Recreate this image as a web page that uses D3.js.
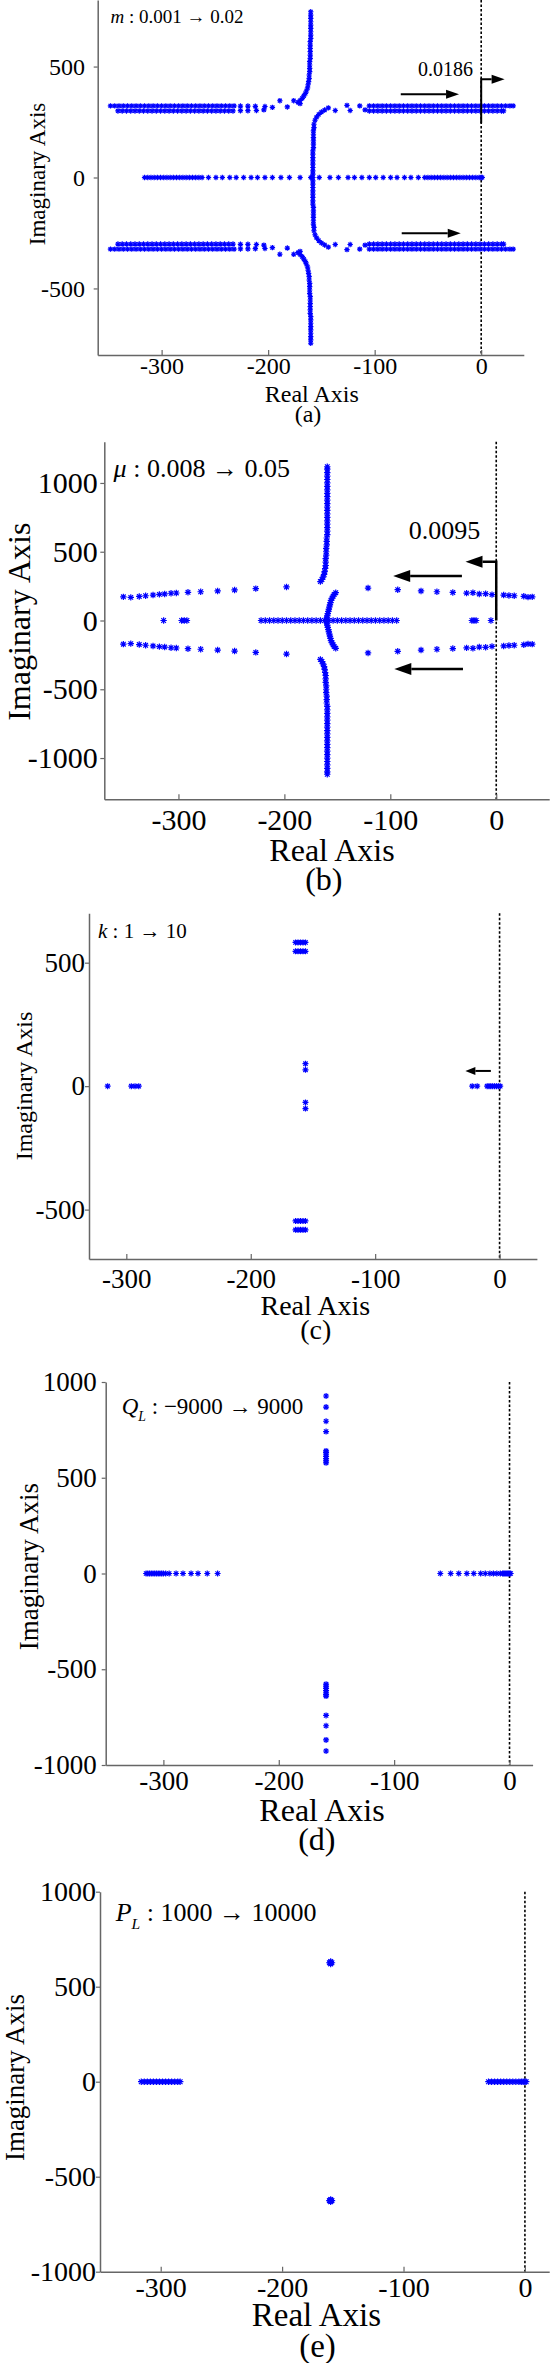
<!DOCTYPE html>
<html>
<head>
<meta charset="utf-8">
<script src="https://cdn.jsdelivr.net/npm/d3@7"></script>
<style>
  body { margin: 0; background: #fff; }
  svg { display: block; }
</style>
</head>
<body>
<svg id="fig"></svg>
<script>
// ---- data (upper half of each locus; the conjugates are added below) ----

// (a) m : 0.001 -> 0.02
const aRealAxisX = [-316,-313,-310,-307,-304,-301,-298,-295,-292,-289,-286,-283,-280,-277,-274,-271,-268,-265,-262,
  -256,-249,-243,-236,-230,-223,-216,-210,-203,-196,-188,-180,-170,-160,-152,-142,-134,-125,-119,-112,-105,-99,-92,-85,-79,-72,-66,-59,-53,
  -50,-47,-44,-41,-38,-35,-32,-29,-26,-23,-20,-17,-14,-11,-8,-5,-2,0,1];
const aInnerLocus = [[-158,0],[-158,15],[-158,30],[-158,45],[-158,60],[-158,75],[-158,90],[-158,105],[-158,120],
  [-157.5,135],[-157.5,150],[-157.5,165],[-157.5,180],[-157.5,195],[-157.5,210],[-157,225],[-157,240],[-156,258],
  [-154.5,272],[-152.5,284],[-150,295],[-147,304],[-143.5,314]];
const aOuterLocus = [[-160,747],[-160,732],[-160,717],[-160,702],[-160,687],[-160,672],[-160,657],[-160,642],[-160,627],
  [-160.5,612],[-160.5,597],[-160.5,582],[-160.5,567],[-160.5,552],[-160.5,537],[-161,522],[-161,507],[-161,492],[-161,477],
  [-161.5,462],[-161.5,447],[-162,432],[-162.5,418],[-163,404],[-164,391],[-165,379],[-166.5,368],[-168,357],[-170,347],[-172,339]];
const aLeftRowUpperX = [-348,-344,-340,-336,-332,-328,-324,-320,-316,-312,-308,-304,-300,-296,-292,-288,-284,-280,-276,-272,
  -268,-264,-260,-256,-252,-248,-244,-240,-236,-232];
const aLeftRowLowerX = [-341,-337,-333,-329,-325,-321,-317,-313,-309,-305,-301,-297,-293,-289,-285,-281,-277,-273,-269,
  -265,-261,-257,-253,-249,-245,-241,-237,-233];
const aLeftJoin = [[-226,322],[-226,301],[-219,322],[-219,301],[-212,321],[-211,302],[-203,320],[-204,305],
  [-196,316],[-189,346],[-182,318],[-176,346],[-170,333]];
const aRightJoin = [[-137,302],[-126,325],[-123,302],[-114,323],[-109,305]];
const aRightRowUpperX = [-105,-101,-97,-93,-89,-85,-81,-77,-73,-69,-65,-61,-57,-53,-49,-45,-41,-37,-33,-29,-25,-21,
  -17,-13,-9,-5,-1,3,7,11,15,19,23,27,30];
const aRightRowLowerX = [-105,-101,-97,-93,-89,-85,-81,-77,-73,-69,-65,-61,-57,-53,-49,-45,-41,-37,-33,-29,-25,-21,
  -17,-13,-9,-5,-1,3,7,11,15,19,21];
const aRowIm = [323, 300];
const aArrows = [[[-75.5,375],[-20.8,375]], [[-74.6,-251.5],[-19.2,-251.5]]];
const aBentArrow = [[0,245],[0,443],[22,443]];

// (b) mu : 0.008 -> 0.05
const bRealAxisX = [-314,-297,-294.5,-292,
  -222,-218,-214,-210,-206,-202,-198,-194,-190,-186,-182,-178,-174,-170,-166,-162,-158,-154,-150,-146,-142,-138,-134,
  -130,-126,-122,-118,-114,-110,-106,-102,-98,-94,
  -23,-21,-19,-5];
const bSideBranch = [[-352,172],[-345,168],[-337,175],[-331,180],[-324,185],[-318,190],[-313,193],[-307,198],[-302,200],
  [-291,205],[-279,209],[-263,215],[-247,222],[-227,232],[-198,244],
  [-121,236],[-93,224],[-71,215],[-56,209],[-41,204],[-28,199],[-22,202],[-16,193],[-10,195],[-4,188],[7,185],[12,182],
  [17,180],[26,176],[30,170],[34,172]];
const bInnerArc = [[-160,4],[-160,18],[-159.5,34],[-159,50],[-158.5,66],[-158,82],[-157.5,98],[-157,114],[-156.5,130],
  [-156,146],[-155,162],[-154,177],[-153,190],[-151.5,202]];
const bOuterLocus = [[-166,283],[-164.5,298],[-163.5,315],[-162.5,335],[-162,355],[-161.5,378],[-161,400],[-161,425],
  [-161,450],[-160.5,475],[-160.5,500],[-160.5,525],[-160,550],[-160,575],[-160,600],[-159.5,625],[-159.5,650],[-159.5,675],
  [-159.5,700],[-159.5,725],[-159.5,750],[-159.5,775],[-159.5,800],[-159.5,825],[-159.5,850],[-159.5,875],[-159.5,900],
  [-159.5,925],[-159.5,950],[-159.5,975],[-159.5,1000],[-159.5,1025],[-159.5,1050],[-159.5,1075],[-159.5,1100],[-159.5,1118]];
const bArrows = [[[-32.4,323.5],[-97.3,323.5]], [[-31.4,-352.6],[-96.2,-352.6]]];
const bBentArrow = [[0,0],[0,427.5],[-29,427.5]];

// (c) k : 1 -> 10
const cRealAxisX = [-315,-296,-293,-290,-22,-18,-10,-8.5,-7,-5.5,-4,-2.5,-1,0.5];
const cComplex = [[-164,582],[-162,582],[-160,582],[-158,582],[-156,582],
  [-164,546],[-162,546],[-160,546],[-158,546],[-156,546],[-156,91],[-156,66]];
const cArrows = [[[-7,61.6],[-27.5,61.6]]];

// (d) Q_L : -9000 -> 9000
const dRealLeftX = [-315,-313.5,-312,-310.5,-309,-307.5,-306,-304.5,-303,-301.5,-300,-298,-295,-289,-283,-276,-270,-262,-253];
const dRealRightX = [-60,-51,-44,-37,-31,-25,-21,-17,-14,-11,-8,-6,-5,-4,-3,-2,-1,0,1];
const dComplex = [[-159,927],[-159,869],[-159,795],[-159,741],[-159,640],[-159,632],[-159,624],[-159,612],
  [-159,600],[-159,588],[-159,578]];

// (e) P_L : 1000 -> 10000
const eRealLeftX = [-316,-313.5,-311,-308.5,-306,-303.5,-301,-298.5,-296,-293.5,-291,-288.5,-286,-284];
const eRealRightX = [-30,-27.5,-25,-22.5,-20,-17.5,-15,-12.5,-10,-7.5,-5,-3,-1.5,0,1];
const eComplex = [[-160,620],[-160,626],[-160,632],[-161,626],[-159,626]];

const xTicks = [-300, -200, -100, 0];

// ---- helpers ----
const onReal = xs => xs.map(x => [x, 0]);
const row = (xs, im) => xs.map(x => [x, im]);
const withConjugates = pts => pts.concat(pts.filter(p => p[1] !== 0).map(p => [p[0], -p[1]]));

const font = "'Liberation Serif','Times New Roman',serif";
const blue = "#0000ff";

const panels = [
  { id: "a", left: 97.7, right: 523.8, top: 0, bottom: 355,
    xDomain: [-360, 40], yDomain: [-800, 800], yTicks: [-500, 0, 500],
    tickFont: 24, xPad: 2, yPad: 8.7, r: 2.7,
    ylab: [36.7, 174, 23], xlab: [311.8, 402, 24], cap: [308, 422, 24],
    title: { x: 110.4, y: 23.3, fs: 19, sym: "m", sub: null, rest: " : 0.001 \u2192 0.02" },
    note: { text: "0.0186", at: [-7.6, 457], fs: 20 },
    arrows: aArrows, bent: aBentArrow, head: { len: 13, w: 4.5 }, sw: 2,
    points: withConjugates([...onReal(aRealAxisX), ...aInnerLocus, ...aOuterLocus,
      ...row(aLeftRowUpperX, aRowIm[0]), ...row(aLeftRowLowerX, aRowIm[1]), ...aLeftJoin,
      ...aRightJoin, ...row(aRightRowUpperX, aRowIm[0]), ...row(aRightRowLowerX, aRowIm[1])]) },
  { id: "b", left: 104.3, right: 549.2, top: 441.7, bottom: 799.3,
    xDomain: [-370, 50], yDomain: [-1300, 1300], yTicks: [-1000, -500, 0, 500, 1000],
    tickFont: 30, xPad: 9.4, yPad: 2.6, r: 3.2,
    ylab: [18.3, 621.7, 32], xlab: [332, 860.5, 32], cap: [323.8, 889.7, 32],
    title: { x: 113.6, y: 477, fs: 26, sym: "\u03bc", sub: null, rest: " : 0.008 \u2192 0.05" },
    note: { text: "0.0095", at: [-15, 590], fs: 26 },
    arrows: bArrows, bent: bBentArrow, head: { len: 17, w: 6 }, sw: 2.5,
    points: withConjugates([...onReal(bRealAxisX), ...bSideBranch, ...bInnerArc, ...bOuterLocus]) },
  { id: "c", left: 89, right: 536.9, top: 913.3, bottom: 1259,
    xDomain: [-330, 30], yDomain: [-700, 700], yTicks: [-500, 0, 500],
    tickFont: 27, xPad: 9.8, yPad: 0, r: 3,
    ylab: [23.3, 1086, 24], xlab: [315.3, 1315, 28], cap: [315.7, 1339, 28],
    title: { x: 98, y: 938, fs: 21, sym: "k", sub: null, rest: " : 1 \u2192 10" },
    arrows: cArrows, head: { len: 10, w: 4 }, sw: 2,
    points: withConjugates([...onReal(cRealAxisX), ...cComplex]) },
  { id: "d", left: 105.7, right: 532.6, top: 1382, bottom: 1765,
    xDomain: [-350, 20], yDomain: [-1000, 1000], yTicks: [-1000, -500, 0, 500, 1000],
    tickFont: 27, xPad: 5.8, yPad: 5, r: 3,
    ylab: [28.3, 1566.7, 27], xlab: [322, 1820.5, 32], cap: [316.8, 1850, 32],
    title: { x: 121.7, y: 1414, fs: 23, sym: "Q", sub: "L", rest: " : \u22129000 \u2192 9000" },
    points: withConjugates([...onReal(dRealLeftX), ...onReal(dRealRightX), ...dComplex]) },
  { id: "e", left: 100, right: 549.2, top: 1891.7, bottom: 2271.7,
    xDomain: [-350, 20], yDomain: [-1000, 1000], yTicks: [-1000, -500, 0, 500, 1000],
    tickFont: 28, xPad: 5.1, yPad: 0, r: 3.3,
    ylab: [15, 2077.5, 27], xlab: [316.4, 2326, 33], cap: [317.5, 2357, 33],
    title: { x: 115.7, y: 1921, fs: 26, sym: "P", sub: "L", rest: " : 1000 \u2192 10000" },
    points: withConjugates([...onReal(eRealLeftX), ...onReal(eRealRightX), ...eComplex]) }
];

const svg = d3.select("#fig").attr("width", 552).attr("height", 2363);

function star(r) {
  const k = r * 0.72;
  return `M${-r},0H${r}M0,${-r}V${r}M${-k},${-k}L${k},${k}M${-k},${k}L${k},${-k}`;
}

function drawArrow(g, pts, head, sw) {
  const n = pts.length;
  const [x1, y1] = pts[n - 2], [x2, y2] = pts[n - 1];
  const ang = Math.atan2(y2 - y1, x2 - x1);
  const bx = x2 - head.len * Math.cos(ang), by = y2 - head.len * Math.sin(ang);
  g.append("path")
    .attr("d", d3.line()(pts.slice(0, -1).concat([[bx, by]])))
    .attr("fill", "none").attr("stroke", "#000").attr("stroke-width", sw)
    .attr("stroke-linejoin", "miter");
  g.append("path")
    .attr("d", `M${x2},${y2}L${bx - head.w * Math.sin(ang)},${by + head.w * Math.cos(ang)}` +
      `L${bx + head.w * Math.sin(ang)},${by - head.w * Math.cos(ang)}Z`)
    .attr("fill", "#000");
}

panels.forEach(p => {
  const x = d3.scaleLinear().domain(p.xDomain).range([p.left, p.right]);
  const y = d3.scaleLinear().domain(p.yDomain).range([p.bottom, p.top]);
  const g = svg.append("g").attr("class", "panel-" + p.id);

  // dotted stability boundary at Re = 0
  g.append("line")
    .attr("x1", x(0)).attr("x2", x(0)).attr("y1", p.top).attr("y2", p.bottom)
    .attr("stroke", "#000").attr("stroke-width", 1.6).attr("stroke-dasharray", "2.5,2");

  // eigenvalues
  g.append("g").selectAll("path")
    .data(p.points)
    .join("path")
    .attr("d", star(p.r))
    .attr("transform", d => `translate(${x(d[0])},${y(d[1])})`)
    .attr("fill", "none").attr("stroke", blue).attr("stroke-width", 1.2);

  // arrows
  (p.arrows || []).forEach(a => drawArrow(g, a.map(d => [x(d[0]), y(d[1])]), p.head, p.sw));
  if (p.bent) drawArrow(g, p.bent.map(d => [x(d[0]), y(d[1])]), p.head, p.sw);
  if (p.note) {
    g.append("text").attr("x", x(p.note.at[0])).attr("y", y(p.note.at[1]))
      .attr("text-anchor", "end").attr("font-family", font).attr("font-size", p.note.fs)
      .text(p.note.text);
  }

  // parameter label
  const t = g.append("text").attr("x", p.title.x).attr("y", p.title.y)
    .attr("font-family", font).attr("font-size", p.title.fs);
  t.append("tspan").attr("font-style", "italic").text(p.title.sym);
  if (p.title.sub) {
    t.append("tspan").attr("font-style", "italic").attr("font-size", p.title.fs * 0.6)
      .attr("dy", p.title.fs * 0.3).text(p.title.sub);
    t.append("tspan").attr("dy", -p.title.fs * 0.3).text(p.title.rest);
  } else {
    t.append("tspan").text(p.title.rest);
  }

  // axes
  const xAxis = d3.axisBottom(x).tickValues(xTicks).tickFormat(d => String(d))
    .tickSizeInner(-5).tickSizeOuter(0).tickPadding(p.xPad);
  const yAxis = d3.axisLeft(y).tickValues(p.yTicks).tickFormat(d => String(d))
    .tickSizeInner(4).tickSizeOuter(0).tickPadding(p.yPad);
  const gx = g.append("g").attr("transform", `translate(0,${p.bottom})`).call(xAxis);
  const gy = g.append("g").attr("transform", `translate(${p.left},0)`).call(yAxis);
  [gx, gy].forEach(ax => {
    ax.select(".domain").attr("stroke", "#666").attr("stroke-width", 1.5);
    ax.selectAll(".tick line").attr("stroke", "#666").attr("stroke-width", 1.2);
    ax.selectAll(".tick text").attr("fill", "#000")
      .attr("font-family", font).attr("font-size", p.tickFont);
  });

  // axis titles and caption
  g.append("text")
    .attr("transform", `translate(${p.ylab[0]},${p.ylab[1]}) rotate(-90)`)
    .attr("dy", "0.35em").attr("text-anchor", "middle")
    .attr("font-family", font).attr("font-size", p.ylab[2])
    .text("Imaginary Axis");
  g.append("text").attr("x", p.xlab[0]).attr("y", p.xlab[1])
    .attr("text-anchor", "middle").attr("font-family", font).attr("font-size", p.xlab[2])
    .text("Real Axis");
  g.append("text").attr("x", p.cap[0]).attr("y", p.cap[1])
    .attr("text-anchor", "middle").attr("font-family", font).attr("font-size", p.cap[2])
    .text(`(${p.id})`);
});
</script>
</body>
</html>
